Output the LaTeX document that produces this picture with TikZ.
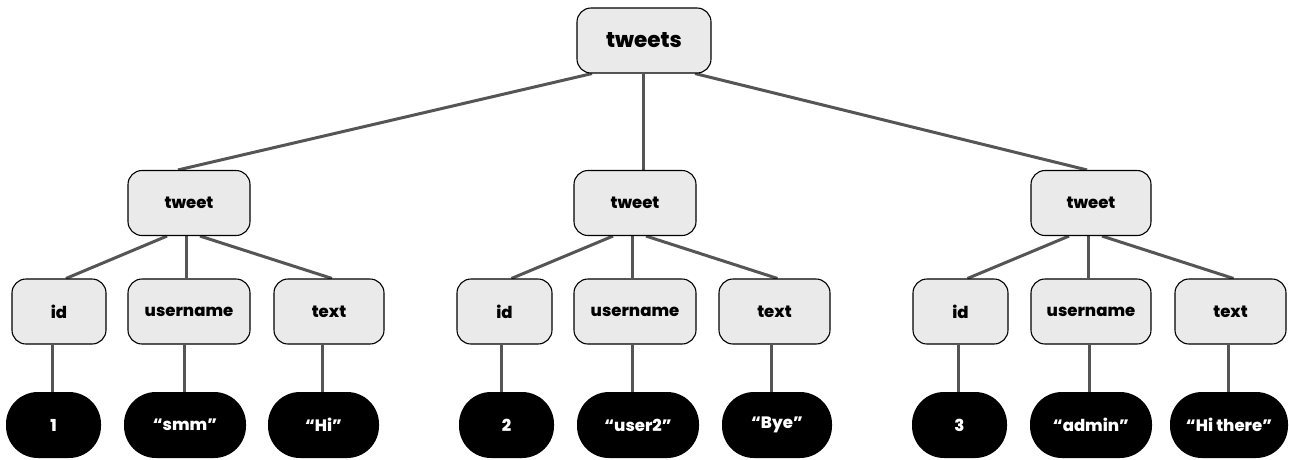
\documentclass[tikz,border=0pt]{standalone}
\usepackage{fontspec}
\setmainfont{Poppins}[BoldFont={Poppins ExtraBold}]
\usetikzlibrary{backgrounds}
\definecolor{boxfill}{HTML}{EAEAEA}
\definecolor{linkgray}{HTML}{555555}
\begin{document}
\begin{tikzpicture}[x=1pt,y=-1pt,
  box/.style={draw=black, line width=1.1pt, fill=boxfill, rounded corners=14pt,
    minimum height=65pt, inner sep=0pt, text=black,
    font=\fontsize{16.5}{19}\selectfont\bfseries},
  topbox/.style={box, font=\fontsize{21.5}{24}\selectfont\bfseries},
  val/.style={fill=black, rounded corners=32pt, minimum height=66pt, inner sep=0pt,
    text=white, font=\fontsize{16.5}{19}\selectfont\bfseries},
  link/.style={draw=linkgray, line width=3pt}]
\useasboundingbox (0,0) rectangle (1289,459);
% root
\node[topbox, minimum width=134pt] (root) at (644,40.5) {tweets};
% tweet level
\node[box, minimum width=122pt] (t1) at (189,203) {tweet};
\node[box, minimum width=122pt] (t2) at (635,203) {tweet};
\node[box, minimum width=120pt] (t3) at (1091,203) {tweet};
% field level
\node[box, minimum width=94pt]  (i1) at (59,311.5) {id};
\node[box, minimum width=122pt] (u1) at (189,311.5) {username};
\node[box, minimum width=110pt] (x1) at (329,311.5) {text};
\node[box, minimum width=95pt]  (i2) at (504.5,311.5) {id};
\node[box, minimum width=122pt] (u2) at (635,311.5) {username};
\node[box, minimum width=111pt] (x2) at (774.5,311.5) {text};
\node[box, minimum width=95pt]  (i3) at (960.5,311.5) {id};
\node[box, minimum width=120pt] (u3) at (1091,311.5) {username};
\node[box, minimum width=111pt] (x3) at (1230.5,311.5) {text};
% values
\node[val, minimum width=95pt]  (v1) at (53.5,425) {1};
\node[val, minimum width=122pt] (w1) at (185,425) {“smm"};
\node[val, minimum width=111pt] (y1) at (323.5,425) {“Hi”};
\node[val, minimum width=95pt]  (v2) at (506.5,425) {2};
\node[val, minimum width=122pt] (w2) at (638,425) {“user2”};
\node[val, minimum width=110pt] (y2) at (777,425) {“Bye”};
\node[val, minimum width=95pt]  (v3) at (959.5,425) {3};
\node[val, minimum width=122pt] (w3) at (1091,425) {“admin”};
\node[val, minimum width=118pt] (y3) at (1229,425) {“Hi there”};
\begin{scope}[on background layer]
  \draw[link] ([xshift=-52pt]root.south) -- ([xshift=-11pt]t1.north);
  \draw[link] ([xshift=-1pt]root.south) -- ([xshift=8pt]t2.north);
  \draw[link] ([xshift=51pt]root.south) -- ([xshift=-4pt]t3.north);
  \foreach \t/\i/\u/\x in {t1/i1/u1/x1, t2/i2/u2/x2, t3/i3/u3/x3}{
    \draw[link] ([xshift=-22pt]\t.south) -- ([xshift=7pt]\i.north);
    \draw[link] ([xshift=-3pt]\t.south) -- ([xshift=-3pt]\u.north);
    \draw[link] ([xshift=11pt]\t.south) -- ([xshift=3pt]\x.north);
  }
  \draw[link] ([xshift=-7pt]i1.south) -- ([xshift=-7pt]i1.south |- v1.north);
  \draw[link] ([xshift=-5pt]u1.south) -- ([xshift=-5pt]u1.south |- w1.north);
  \draw[link] ([xshift=-7pt]x1.south) -- ([xshift=-7pt]x1.south |- y1.north);
  \draw[link] ([xshift=-3.5pt]i2.south) -- ([xshift=-3.5pt]i2.south |- v2.north);
  \draw[link] ([xshift=-3pt]u2.south) -- ([xshift=-3pt]u2.south |- w2.north);
  \draw[link] ([xshift=-3.5pt]x2.south) -- ([xshift=-3.5pt]x2.south |- y2.north);
  \draw[link] ([xshift=-2.5pt]i3.south) -- ([xshift=-2.5pt]i3.south |- v3.north);
  \draw[link] ([xshift=-2pt]u3.south) -- ([xshift=-2pt]u3.south |- w3.north);
  \draw[link] ([xshift=-2.5pt]x3.south) -- ([xshift=-2.5pt]x3.south |- y3.north);
\end{scope}
\end{tikzpicture}
\end{document}
